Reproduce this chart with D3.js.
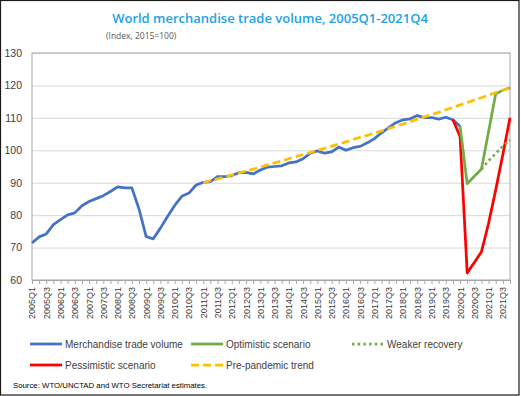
<!DOCTYPE html>
<html>
<head>
<meta charset="utf-8">
<script src="https://cdn.jsdelivr.net/npm/d3@7"></script>
<style>
  html, body { margin: 0; padding: 0; background: #fff; }
  svg { display: block; font-family: "Liberation Sans", Arial, sans-serif; }
</style>
</head>
<body>
<div id="chart"></div>
<script>
var quarters = [
  "2005Q1","2005Q2","2005Q3","2005Q4","2006Q1","2006Q2","2006Q3","2006Q4",
  "2007Q1","2007Q2","2007Q3","2007Q4","2008Q1","2008Q2","2008Q3","2008Q4",
  "2009Q1","2009Q2","2009Q3","2009Q4","2010Q1","2010Q2","2010Q3","2010Q4",
  "2011Q1","2011Q2","2011Q3","2011Q4","2012Q1","2012Q2","2012Q3","2012Q4",
  "2013Q1","2013Q2","2013Q3","2013Q4","2014Q1","2014Q2","2014Q3","2014Q4",
  "2015Q1","2015Q2","2015Q3","2015Q4","2016Q1","2016Q2","2016Q3","2016Q4",
  "2017Q1","2017Q2","2017Q3","2017Q4","2018Q1","2018Q2","2018Q3","2018Q4",
  "2019Q1","2019Q2","2019Q3","2019Q4","2020Q1","2020Q2","2020Q3","2020Q4",
  "2021Q1","2021Q2","2021Q3","2021Q4"
];

// each series starts at the quarter given in its *_start
var trade_start = "2005Q1";
var trade = [
  71.4, 73.3, 74.2, 77.1, 78.6, 80.1, 80.7, 82.9, 84.2, 85.1, 86.0, 87.3,
  88.7, 88.4, 88.4, 81.9, 73.4, 72.7, 76.0, 79.6, 83.0, 85.8, 86.8, 89.3,
  90.1, 90.3, 91.9, 91.9, 92.2, 93.1, 93.2, 92.7, 93.9, 94.8, 95.0, 95.2,
  96.1, 96.4, 97.4, 99.1, 99.8, 99.1, 99.5, 101.0, 100.0, 100.8, 101.2, 102.3,
  103.6, 105.4, 107.0, 108.5, 109.4, 109.7, 110.7, 110.1, 110.1, 109.6, 110.2, 109.4,
  107.4
];
var optimistic_start = "2020Q1";
var optimistic = [107.4, 89.7, 92.0, 94.2, 105.8, 117.4, 118.5, 119.3];
var weaker_start = "2020Q4";
var weaker = [94.2, 96.8, 99.0, 101.2, 103.2];
var pessimistic_start = "2019Q4";
var pessimistic = [109.4, 104.3, 62.2, 65.4, 68.7, 77.5, 87.8, 98.7, 110.0];
var trend_start = "2011Q1";
var trend = [
  90.0, 90.6, 91.2, 91.8, 92.4, 93.0, 93.6, 94.2, 94.8, 95.5, 96.1, 96.7,
  97.4, 98.0, 98.7, 99.3, 100.0, 100.6, 101.3, 101.9, 102.6, 103.3, 104.0, 104.6,
  105.3, 106.0, 106.7, 107.4, 108.1, 108.8, 109.6, 110.3, 111.0, 111.7, 112.5, 113.2,
  114.0, 114.7, 115.5, 116.2, 117.0, 117.8, 118.5, 119.3
];
var yTicks = [60, 70, 80, 90, 100, 110, 120, 130];

var BLUE = "#4472c4", GREEN = "#70ad47", RED = "#ff0000", GOLD = "#ffc000";
var TEXT = "#404040";

var W = 521, H = 396;
var plot = { left: 32, right: 510, top: 53, bottom: 280 };

var svg = d3.select("#chart").append("svg")
  .attr("width", W).attr("height", H);

svg.append("rect")
  .attr("x", 0.5).attr("y", 0.5)
  .attr("width", W - 2.5).attr("height", H - 1.5)
  .attr("fill", "#fff").attr("stroke", "#1a1a1a").attr("stroke-width", 1.2);

var x = d3.scalePoint().domain(quarters).range([plot.left, plot.right]);
var y = d3.scaleLinear().domain([60, 130]).range([plot.bottom, plot.top]);

// title
svg.append("text")
  .attr("x", 270).attr("y", 23)
  .attr("text-anchor", "middle")
  .attr("fill", "#22a2e6")
  .attr("font-family", "'Open Sans', 'Liberation Sans', sans-serif")
  .attr("font-weight", 600)
  .attr("font-size", "13px")
  .text("World merchandise trade volume, 2005Q1-2021Q4");

svg.append("text")
  .attr("x", 106).attr("y", 39)
  .attr("fill", "#595959")
  .attr("font-family", "'Open Sans', 'Liberation Sans', sans-serif")
  .attr("font-size", "8.5px")
  .text("(Index, 2015=100)");

// gridlines + y labels
svg.append("g")
  .attr("transform", "translate(" + plot.left + ",0)")
  .call(d3.axisLeft(y).tickValues(yTicks).tickSize(-(plot.right - plot.left)).tickPadding(10))
  .call(function (g) {
    g.select(".domain").remove();
    g.selectAll(".tick line").attr("stroke", "#d9d9d9").attr("stroke-width", 1);
    g.selectAll(".tick text").attr("fill", TEXT).attr("font-size", "10.5px");
  });

// plot border
svg.append("rect")
  .attr("x", plot.left).attr("y", plot.top)
  .attr("width", plot.right - plot.left).attr("height", plot.bottom - plot.top)
  .attr("fill", "none").attr("stroke", "#a6a6a6").attr("stroke-width", 1);

// x axis
svg.append("g")
  .attr("transform", "translate(0," + plot.bottom + ")")
  .call(d3.axisBottom(x).tickSize(4).tickFormat(function (d, i) { return i % 2 === 0 ? d : ""; }))
  .call(function (g) {
    g.select(".domain").attr("stroke", "#a6a6a6");
    g.selectAll(".tick line").attr("stroke", "#a6a6a6");
    g.selectAll(".tick text")
      .attr("fill", TEXT)
      .attr("font-size", "9px")
      .attr("text-anchor", "end")
      .attr("transform", "rotate(-90)")
      .attr("x", -7).attr("y", 0).attr("dy", "0.33em");
  });

function seriesData(start, values) {
  var i0 = quarters.indexOf(start);
  return values.map(function (v, i) { return { q: quarters[i0 + i], v: v }; });
}

var line = d3.line()
  .x(function (d) { return x(d.q); })
  .y(function (d) { return y(d.v); });

var DOT = "2.5,3.2";

function drawLine(data, color, dash, width) {
  svg.append("path")
    .datum(data)
    .attr("d", line)
    .attr("fill", "none")
    .attr("stroke", color)
    .attr("stroke-width", width)
    .attr("stroke-linejoin", "round")
    .attr("stroke-dasharray", dash);
}

drawLine(seriesData(trade_start, trade), BLUE, null, 2.75);
drawLine(seriesData(pessimistic_start, pessimistic), RED, null, 2.75);
drawLine(seriesData(optimistic_start, optimistic), GREEN, null, 2.75);
drawLine(seriesData(weaker_start, weaker), GREEN, DOT, 2.75);
drawLine(seriesData(trend_start, trend), GOLD, "8,4", 2.75);

// legend
var legend = [
  { label: "Merchandise trade volume", color: BLUE,  dash: null, x: 30,  y: 344 },
  { label: "Optimistic scenario",      color: GREEN, dash: null, x: 191, y: 344 },
  { label: "Weaker recovery",          color: GREEN, dash: DOT,  x: 352, y: 344 },
  { label: "Pessimistic scenario",     color: RED,   dash: null, x: 30,  y: 365 },
  { label: "Pre-pandemic trend",       color: GOLD,  dash: "8,4", x: 191, y: 365 }
];

legend.forEach(function (d) {
  svg.append("line")
    .attr("x1", d.x).attr("x2", d.x + 32)
    .attr("y1", d.y).attr("y2", d.y)
    .attr("stroke", d.color)
    .attr("stroke-width", 2.75)
    .attr("stroke-dasharray", d.dash);
  svg.append("text")
    .attr("x", d.x + 35).attr("y", d.y)
    .attr("dy", "0.35em")
    .attr("fill", TEXT)
    .attr("font-size", "10px")
    .text(d.label);
});

svg.append("text")
  .attr("x", 13).attr("y", 388)
  .attr("fill", "#000")
  .attr("font-size", "7.8px")
  .text("Source: WTO/UNCTAD and WTO Secretariat estimates.");
</script>
</body>
</html>
